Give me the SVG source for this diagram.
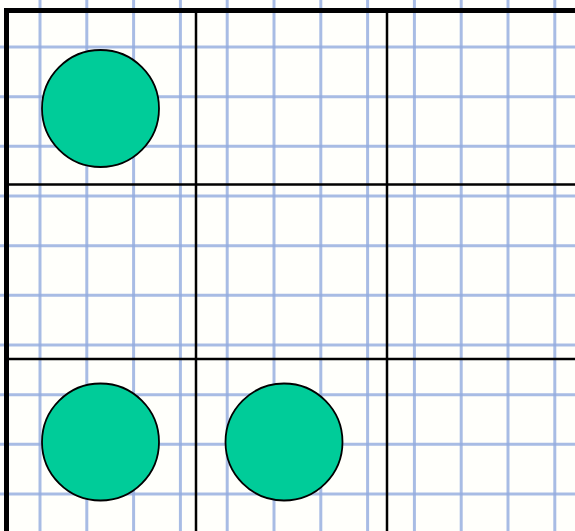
<svg xmlns="http://www.w3.org/2000/svg" width="575" height="531" viewBox="0 0 575 531">
<style>
.g{stroke:#93acdf;stroke-width:3;opacity:0.8}
.b{stroke:#000;stroke-width:2.5}
.n{fill:#00cc99;stroke:#000;stroke-width:1.8}
</style>
<rect width="575" height="531" fill="#fffffb"/>
<g id="grid">
<path class="g" d="M40,0V531M86.8,0V531M133.6,0V531M180.4,0V531M227.2,0V531M274,0V531M320.8,0V531M367.6,0V531M414.4,0V531M461.2,0V531M508,0V531M554.8,0V531"/>
<path class="g" d="M0,47H575M0,96.7H575M0,146.3H575M0,196H575M0,245.7H575M0,295.3H575M0,345H575M0,394.7H575M0,444.3H575M0,494H575"/>
</g>
<g id="frame">
<path class="b" d="M196,10V531M387,10V531M6,184.5H575M6,359H575"/>
<path stroke="#000" stroke-width="5" fill="none" d="M6.5,531V10.5H575"/>
</g>
<g id="node1"><circle class="n" cx="100.5" cy="108.5" r="58.5"/></g>
<g id="node2"><circle class="n" cx="100.5" cy="442" r="58.5"/></g>
<g id="node3"><circle class="n" cx="284" cy="442" r="58.5"/></g>
</svg>
